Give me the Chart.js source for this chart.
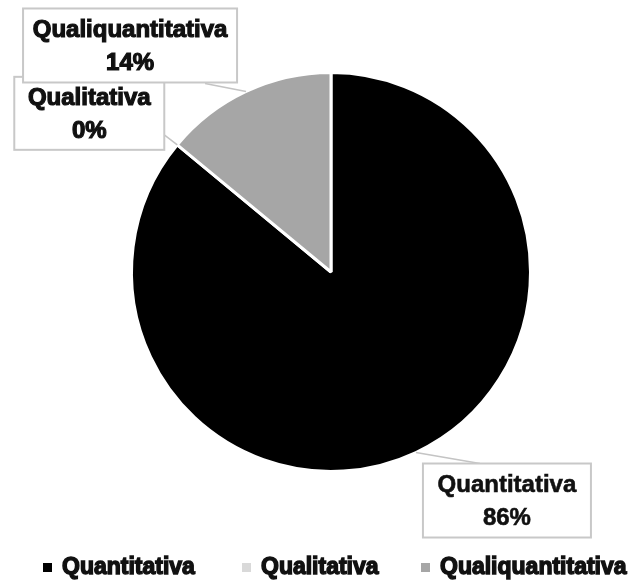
<!DOCTYPE html>
<html>
<head>
<meta charset="utf-8">
<script src="https://cdn.jsdelivr.net/npm/chart.js@4.4.1/dist/chart.umd.min.js"></script>
<style>
  html, body { margin: 0; padding: 0; background: #fff; }
  #wrap { width: 633px; height: 583px; position: relative; }
</style>
</head>
<body>
<div id="wrap"><canvas id="chart"></canvas></div>
<script>
const labels = ['Quantitativa', 'Qualitativa', 'Qualiquantitativa']
const values = [86, 0, 14]
const percentLabels = ['86%', '0%', '14%']
const colors = ['#000000', '#d9d9d9', '#a6a6a6']

// callout boxes, placed relative to the slice's outer mid point
const calloutLayout = [
  { dx: 7, dy: 11, w: 168, h: 74, lead: [64, 11], weight: 0.6 },      // Quantitativa
  { dx: -163, dy: -68, w: 150, h: 73, lead: [-13, -10], weight: 1.2 }, // Qualitativa
  { dx: -223, dy: -83, w: 214, h: 74, lead: [-41, -8], weight: 1.2 }   // Qualiquantitativa
]
const drawOrder = [1, 2, 0]

const calloutPlugin = {
  id: 'callouts',
  afterDraw(chart) {
    const ctx = chart.ctx
    const arcs = chart.getDatasetMeta(0).data
    ctx.save()
    drawOrder.forEach(i => {
      const arc = arcs[i]
      const mid = (arc.startAngle + arc.endAngle) / 2
      const ax = arc.x + Math.cos(mid) * arc.outerRadius
      const ay = arc.y + Math.sin(mid) * arc.outerRadius
      const c = calloutLayout[i]
      const bx = ax + c.dx, by = ay + c.dy

      ctx.strokeStyle = '#c4c4c4'
      ctx.lineWidth = 1.5
      ctx.beginPath()
      ctx.moveTo(ax, ay)
      ctx.lineTo(ax + c.lead[0], ay + c.lead[1])
      ctx.stroke()

      ctx.fillStyle = '#ffffff'
      ctx.fillRect(bx, by, c.w, c.h)
      ctx.lineWidth = 2
      ctx.strokeStyle = '#c8c8c8'
      ctx.strokeRect(bx, by, c.w, c.h)

      ctx.fillStyle = '#111'
      ctx.strokeStyle = '#111'
      ctx.lineWidth = c.weight
      ctx.font = "bold 24px 'Liberation Sans'"
      ctx.textAlign = 'center'
      ctx.textBaseline = 'middle'
      const cx = bx + c.w / 2
      ctx.fillText(labels[i], cx, by + 22)
      ctx.strokeText(labels[i], cx, by + 22)
      ctx.fillText(percentLabels[i], cx, by + 55)
      ctx.strokeText(percentLabels[i], cx, by + 55)
    })

    // legend row
    const legendX = [43, 242, 421]
    ctx.font = "bold 23px 'Liberation Sans'"
    ctx.textAlign = 'left'
    ctx.textBaseline = 'middle'
    labels.forEach((name, i) => {
      ctx.fillStyle = colors[i]
      ctx.fillRect(legendX[i], 563, 9, 9)
      ctx.fillStyle = '#111'
      ctx.strokeStyle = '#111'
      ctx.lineWidth = 1.4
      ctx.fillText(name, legendX[i] + 19, 568)
      ctx.strokeText(name, legendX[i] + 19, 568)
    })
    ctx.restore()
  }
}

new Chart(document.getElementById('chart'), {
  type: 'pie',
  data: {
    labels: labels,
    datasets: [{
      data: values,
      backgroundColor: colors,
      borderColor: '#ffffff',
      borderWidth: 3
    }]
  },
  options: {
    responsive: true,
    maintainAspectRatio: false,
    animation: false,
    events: [],
    layout: { padding: { left: 130, right: 101, top: 70, bottom: 109 } },
    plugins: {
      legend: { display: false },
      tooltip: { enabled: false }
    }
  },
  plugins: [calloutPlugin]
})
</script>
</body>
</html>
